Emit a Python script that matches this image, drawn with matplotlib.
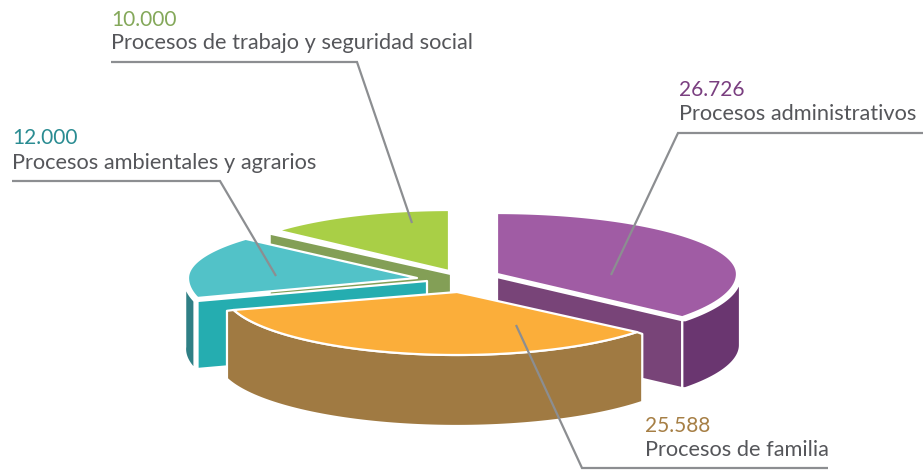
import numpy as np
import matplotlib
matplotlib.use('Agg')
import matplotlib.pyplot as plt
from matplotlib.patches import Polygon

# data
labels = ['Procesos administrativos', 'Procesos de familia',
          'Procesos ambientales y agrarios', 'Procesos de trabajo y seguridad social']
values = [26726, 25588, 12000, 10000]
value_labels = ['26.726', '25.588', '12.000', '10.000']

# look of each slice (tip x, tip y, rx, ry back, ry front, depth)
geom = [(497, 274, 240, 61, 68, 68),
        (457, 292, 233, 63, 63, 68),
        (417, 278, 229, 59, 70, 68),
        (449, 271, 229, 61, 61, 68)]
top_colors = ['#a05ca4', '#fbae3a', '#52c2c8', '#a9cf46']
cut_colors = ['#784478', '#a07a42', '#25adb0', '#839f56']
side_colors = ['#6a3670', '#a07a42', '#2f7f85', '#839f56']
num_colors = ['#7a3f80', '#a67f45', '#2a8c92', '#84a85a']

# leader lines, label positions
leaders = [[(923, 133), (678, 133), (611, 275)],
           [(516, 325), (582, 468), (828, 468)],
           [(12, 181), (220, 181), (276, 276)],
           [(111, 62), (357, 62), (412, 223)]]
text_pos = [(679, 90, 114), (645, 426, 450), (12, 138, 163), (111, 20, 43)]

fig = plt.figure(figsize=(9.23, 4.70), dpi=100)
ax = fig.add_axes([0, 0, 1, 1])
ax.set_xlim(0, 923)
ax.set_ylim(470, 0)
ax.axis('off')

# angles clockwise from 12 o'clock
ends = np.cumsum(values) / np.sum(values) * 360
starts = np.r_[0, ends[:-1]]


def rim(g, a0, a1, n=80):
    cx, cy, rx, ryb, ryf, d = g
    t = np.radians(np.linspace(a0, a1, n))
    c = np.cos(t)
    return np.c_[cx + rx * np.sin(t), cy - np.where(c > 0, ryb, ryf) * c]


def face(pts, color, z):
    ax.add_patch(Polygon(pts, closed=True, fc=color, ec='white', lw=1.6, zorder=z, joinstyle='round'))


def down(pts, d):
    return pts + np.array([0, d])


# draw back to front: green, teal, purple, orange
z = 1
for i in [3, 2, 0, 1]:
    g = geom[i]
    cx, cy, rx, ryb, ryf, d = g
    arc = rim(g, starts[i], ends[i])
    tip = np.array([[cx, cy]])
    if i == 3:
        # strip under the straight edge that faces the teal slice
        a = np.array([arc[0], tip[0]]) + [-8, 3]
        a[1] += [10, 0]
        face(np.r_[a, down(a[::-1], d)], cut_colors[i], z)
    elif i == 2:
        # outer wall on the far left, then the cut face
        outer = rim(g, starts[i], 272) + [-3, 3]
        face(np.r_[outer, down(outer[::-1], d)], side_colors[i], z)
        a = np.array([arc[0], tip[0]]) + [0, 3]
        a[1] += [10, 0]
        face(np.r_[a, down(a[::-1], d)], cut_colors[i], z)
    elif i == 0:
        a = np.array([tip[0], arc[-1]]) + [0, 3]
        face(np.r_[a, down(a[::-1], d)], cut_colors[i], z)
        outer = rim(g, 90, ends[i]) + [3, 3]
        outer = np.r_[outer, [arc[-1] + [0, 3]]]
        face(np.r_[outer, down(outer[::-1], d)], side_colors[i], z)
    else:
        # front wall is a bit wider than the top so its corners stick out,
        # its upper side follows the top so nothing shows through the gap
        wall = rim((cx, cy, rx + 7, ryb + 3, ryf + 3, d), starts[i], ends[i])
        face(np.r_[wall[:1], arc, wall[-1:], down(wall[::-1], d)], side_colors[i], z)
    face(np.r_[tip, arc], top_colors[i], z + 1)
    z += 2

for pts in leaders:
    xs, ys = zip(*pts)
    ax.plot(xs, ys, color='#8c8e91', lw=1.6, zorder=20, solid_capstyle='butt', solid_joinstyle='miter')

font = ['Lato', 'DejaVu Sans']
for i in range(4):
    x, y1, y2 = text_pos[i]
    ax.text(x, y1, value_labels[i], color=num_colors[i], fontsize=15, family=font, va='center', zorder=21)
    ax.text(x, y2, labels[i], color='#55565a', fontsize=15.7, family=font, va='center', zorder=21)

fig.savefig('out.png', dpi=100, facecolor='white')
